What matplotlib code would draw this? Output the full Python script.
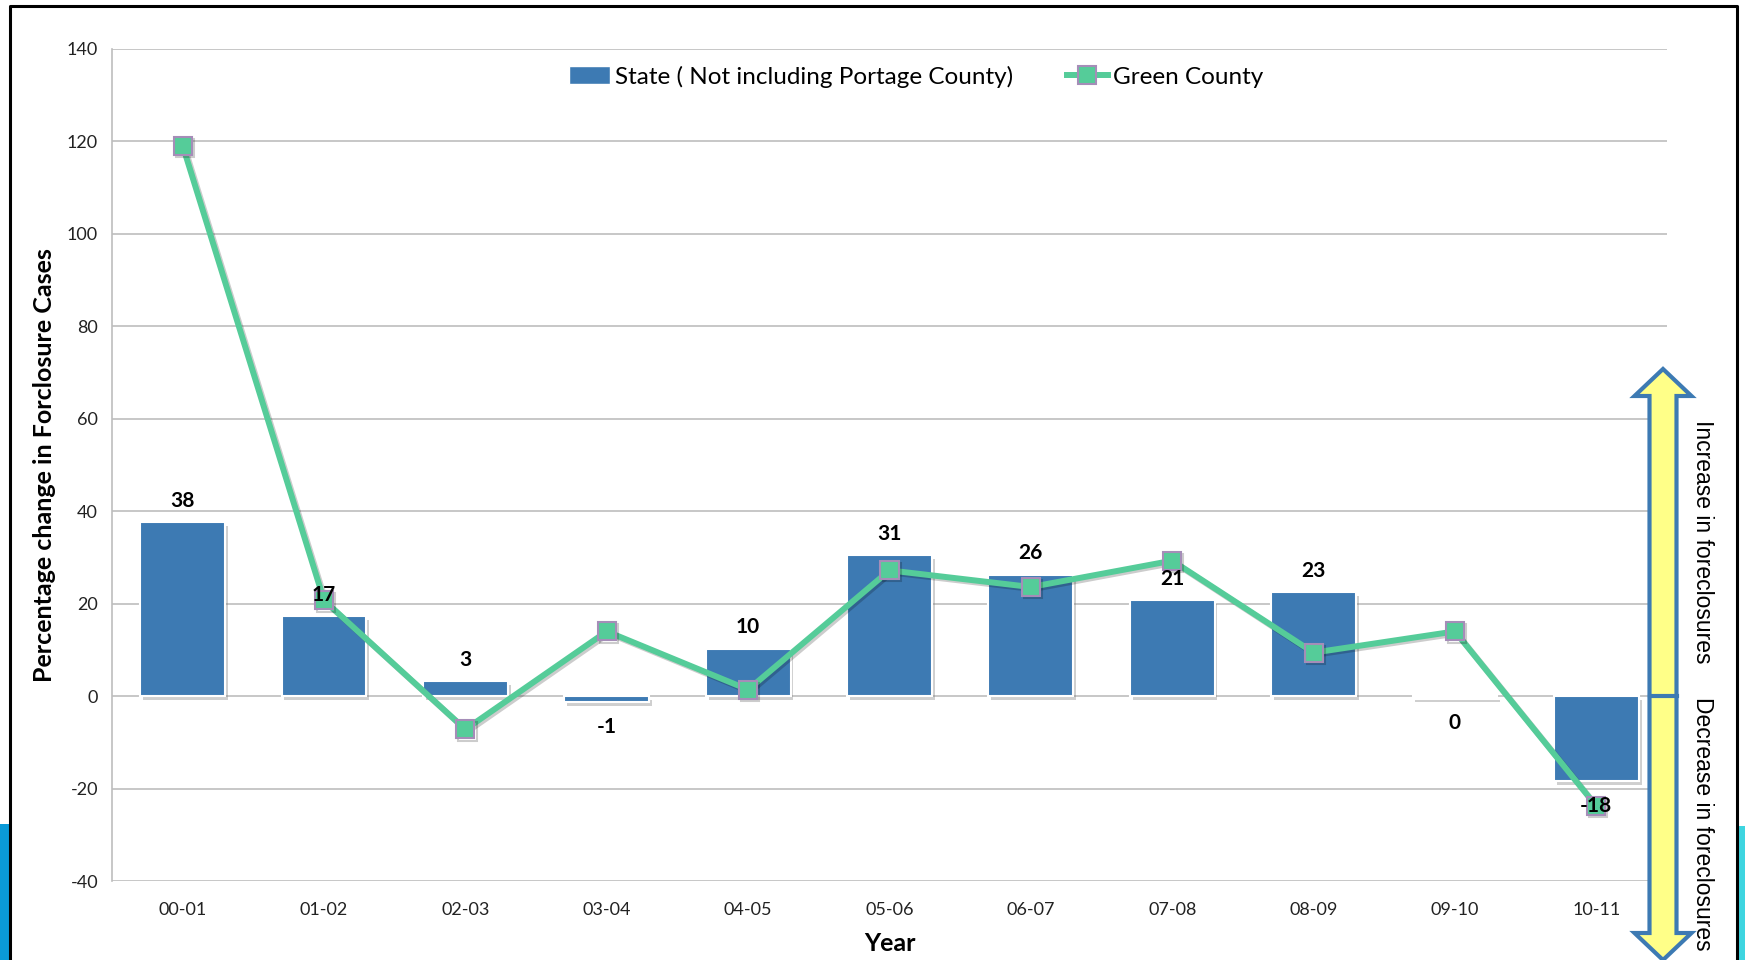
import matplotlib
matplotlib.use("Agg")
import matplotlib.pyplot as plt
import matplotlib.patheffects as pe
from matplotlib.patches import Polygon, Rectangle
from matplotlib.lines import Line2D
import matplotlib.transforms as mtransforms
import numpy as np

categories = ["00-01", "01-02", "02-03", "03-04", "04-05", "05-06",
              "06-07", "07-08", "08-09", "09-10", "10-11"]
state_values = [37.6, 17.3, 3.2, -1.3, 10.3, 30.6, 26.3, 20.8, 22.6, -0.4, -18.4]
green_values = [119.1, 20.7, -7.2, 14.0, 1.4, 27.2, 23.6, 29.3, 9.4, 14.0, -23.8]
y_ticks = [-40, -20, 0, 20, 40, 60, 80, 100, 120, 140]

state_name = "State ( Not including Portage County)"
green_name = "Green County"

BAR = "#3D7AB3"
LINE = "#55CC99"
MEDGE = "#A58DB8"
GRID = "#BDBDBD"

plt.rcParams['font.family'] = ['Lato', 'DejaVu Sans']
plt.rcParams['axes.unicode_minus'] = False

W, H = 1745, 960
fig = plt.figure(figsize=(W / 100, H / 100), dpi=100)
ax = fig.add_axes([112 / W, 1 - 881 / H, (1667 - 112) / W, (881 - 49) / H])

x = np.arange(len(categories))
bars = ax.bar(x, state_values, width=0.6, color=BAR, edgecolor="white",
              linewidth=1.5, zorder=2,
              path_effects=[pe.SimplePatchShadow(offset=(2, -3), alpha=0.35, shadow_rgbFace="#777777"),
                            pe.Normal()])

ax.plot(x, green_values, color=LINE, linewidth=4.3, marker="s", markersize=13,
        markerfacecolor=LINE, markeredgecolor=MEDGE, markeredgewidth=1.5, zorder=4,
        path_effects=[pe.SimpleLineShadow(offset=(1.5, -1.5), alpha=0.2), pe.Normal()])

for xi, v in zip(x, state_values):
    lab = str(int(round(v)))
    if v >= 0:
        ax.annotate(lab, (xi, v), xytext=(0, 8), textcoords="offset points",
                    ha="center", va="bottom", fontsize=15, fontweight="bold", zorder=5)
    else:
        ax.annotate(lab, (xi, v), xytext=(0, -11), textcoords="offset points",
                    ha="center", va="top", fontsize=15, fontweight="bold", zorder=5)

ax.set_xlim(-0.5, len(categories) - 0.5)
ax.set_ylim(-40, 140)
ax.set_yticks(y_ticks)
ax.set_xticks(x)
ax.set_xticklabels(categories)
ax.tick_params(axis="both", length=0, labelsize=13, colors="#222222")
ax.tick_params(axis="x", pad=15)
ax.tick_params(axis="y", pad=10)
ax.yaxis.grid(True, color=GRID, linewidth=1.2, zorder=0)
ax.set_axisbelow(True)
for s in ["top", "right", "bottom"]:
    ax.spines[s].set_visible(False)
ax.spines["left"].set_color(GRID)
ax.spines["left"].set_linewidth(1.2)

ax.set_ylabel("Percentage change in Forclosure Cases", fontsize=18, fontweight="bold", labelpad=8)
ax.set_xlabel("Year", fontsize=18, fontweight="bold", labelpad=10)

handles = [Rectangle((0, 0), 1, 1, facecolor=BAR, edgecolor="white"),
           Line2D([0], [0], color=LINE, linewidth=4.3, marker="s", markersize=13,
                  markerfacecolor=LINE, markeredgecolor=MEDGE, markeredgewidth=1.5)]
ax.legend(handles, [state_name, green_name], loc="center", bbox_to_anchor=(0.517, 0.967),
          ncol=2, frameon=False, fontsize=17.5, handlelength=1.7, handletextpad=0.2,
          columnspacing=2.2)

# Double arrow on the right side
cx = 1663
sh = 13.5
hh = 28.5
pts = [(cx, 369), (cx + hh, 396), (cx + sh, 396), (cx + sh, 933), (cx + hh, 933),
       (cx, 960), (cx - hh, 933), (cx - sh, 933), (cx - sh, 396), (cx - hh, 396)]
pts_f = [(px / W, 1 - py / H) for px, py in pts]
arrow = Polygon(pts_f, closed=True, transform=fig.transFigure, facecolor="#FFFF88",
                edgecolor=BAR, linewidth=3, joinstyle="miter", clip_on=False, zorder=10)
fig.patches.append(arrow)
blend = mtransforms.blended_transform_factory(fig.transFigure, ax.transData)
fig.lines.append(Line2D([(cx - sh) / W, (cx + sh) / W], [0, 0], transform=blend,
                        color=BAR, linewidth=3, zorder=11))

fig.text(1703 / W, 1 - 420 / H, "Increase in foreclosures", rotation=270, ha="center", va="top",
         fontsize=16.5, family=["Liberation Sans", "DejaVu Sans"])
fig.text(1703 / W, 1 - 697 / H, "Decrease in foreclosures", rotation=270, ha="center", va="top",
         fontsize=16.5, family=["Liberation Sans", "DejaVu Sans"])

# Slide decorations: frame and side bars
fig.patches.append(Rectangle((0, 0), 9 / W, 1 - 824 / H, transform=fig.transFigure,
                             facecolor="#0A9AD8", edgecolor="none", zorder=1))
fig.patches.append(Rectangle((1739 / W, 0), 6 / W, 1 - 826 / H, transform=fig.transFigure,
                             facecolor="#3ED5E0", edgecolor="none", zorder=1))
fig.lines.append(Line2D([10 / W, 10 / W, 1737 / W, 1737 / W], [0, 1 - 6 / H, 1 - 6 / H, 0],
                        transform=fig.transFigure, color="black", linewidth=2.2, zorder=12))

fig.savefig("out.png", dpi=100)
